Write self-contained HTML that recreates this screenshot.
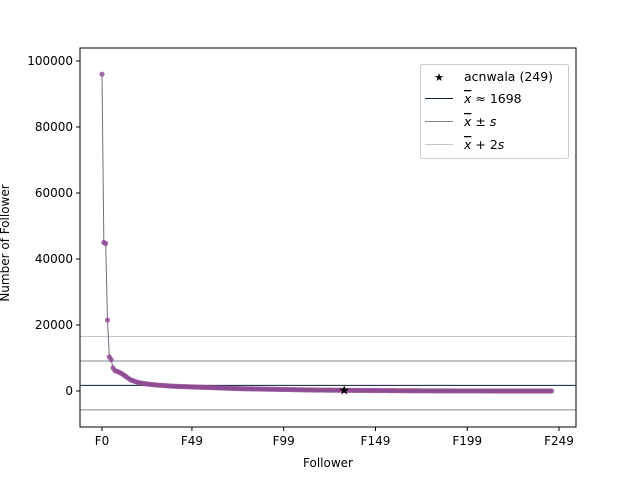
<!DOCTYPE html>
<html><head><meta charset="utf-8"><style>
body{margin:0;background:#fff}
svg{display:block;font-family:"DejaVu Sans","Liberation Sans",sans-serif}
</style></head><body>
<svg id="c" width="640" height="480"></svg>
<script>
const categories = Array.from({length:250},(_, i)=>'F'+i);
const followers = [96000,45000,44700,21500,10300,9500,7000,6200,6000,5800,5500,5200,4800,4400,4000,3600,3300,3100,2900,2700,
2550,2450,2350,2250,2150,2100,2050,1980,1920,1860,1800,1760,1720,1680,1640,1600,1560,1520,1490,1460,1430,1400,1380,1360,1340,1320,1300,1280,1260,1240,
1220,1200,1180,1160,1140,1120,1100,1080,1060,1040,1020,1000,980,960,940,920,900,880,860,840,820,800,780,760,740,720,700,690,680,670,
660,650,640,630,620,610,600,590,580,570,560,550,540,530,520,510,500,490,480,470,460,450,440,430,420,410,400,390,380,370,
360,350,340,330,320,310,300,295,290,285,280,275,270,265,260,255,250,249,245,240,235,230,225,220,215,210,205,200,195,190,
186,182,178,174,170,166,162,158,154,150,146,142,138,134,130,126,122,118,114,110,106,102,98,95,92,89,86,83,80,77,
74,71,68,65,62,60,58,56,54,52,50,48,46,44,42,40,38,36,34,32,30,29,28,27,26,25,24,23,22,21,
20,19,18,17,16,15,14,13,12,11,10,9,8,8,7,7,6,6,5,5,4,4,3,3,2,2,2,1,1,1,
1,1,1,1,1,1,1,1,0,0,0,0,0,0,0,0];
const yTicks = [0,20000,40000,60000,80000,100000];
const xTickIdx = [0,49,99,149,199,249];
const highlightIdx = 132;
const highlightLabel = 'acnwala (249)';
const meanVal = 1698;
const sdVal = 7400;

const NS='http://www.w3.org/2000/svg', svg=document.getElementById('c');
const L=80,R=576,T=48,B=427;
const xs=i=>102+i*(457/249);
const ys=v=>391-v*0.0033;
function el(t,a,p){const e=document.createElementNS(NS,t);for(const k in a)e.setAttribute(k,a[k]);(p||svg).appendChild(e);return e;}
function line(y,c,name){const e=el('line',{x1:L,x2:R,y1:ys(y),y2:ys(y),stroke:c,'stroke-width':1});

}
line(meanVal+2*sdVal,'#c4c8cc','mean-plus-2s-line');
line(meanVal+sdVal,'#7d8a96','mean-plus-s-line');
line(meanVal-sdVal,'#7d8a96','mean-minus-s-line');
line(meanVal,'#0b2135','mean-line');
const pts=followers.map((v,i)=>xs(i)+','+ys(v)).join(' ');
const pl=el('polyline',{points:pts,fill:'none',stroke:'#7a6a7e','stroke-width':1});


followers.forEach((v,i)=>{const c=el('circle',{cx:xs(i),cy:ys(v),r:2.6,fill:'#8e4a94','fill-opacity':0.8});

});
const st=el('text',{x:xs(highlightIdx),y:ys(followers[highlightIdx])+4,'text-anchor':'middle','font-size':13,fill:'#000'});
st.textContent='★';


const fr=el('rect',{x:L,y:T,width:R-L,height:B-T,fill:'none',stroke:'#000','stroke-width':1});


yTicks.forEach(v=>{el('line',{x1:L-4,x2:L,y1:ys(v),y2:ys(v),stroke:'#000'});
const t=el('text',{x:L-7,y:ys(v)+4,'text-anchor':'end','font-size':12});t.textContent=v;

});
xTickIdx.forEach(i=>{el('line',{x1:xs(i),x2:xs(i),y1:B,y2:B+4,stroke:'#000'});
const t=el('text',{x:xs(i),y:B+18,'text-anchor':'middle','font-size':12});t.textContent=categories[i];

});
</script>
<svg width="640" height="480" style="position:absolute;left:0;top:0">
<text x="328" y="467" text-anchor="middle" font-size="12">Follower</text>
<text x="0" y="0" transform="translate(9,243) rotate(-90)" text-anchor="middle" font-size="12">Number of Follower</text>
<g>
<rect x="420.5" y="64.5" width="148" height="94" rx="2" fill="#fff" fill-opacity="0.8" stroke="#ccc"/>
<text x="439" y="81" text-anchor="middle" font-size="11">★</text>
<text x="464" y="81" font-size="12.5">acnwala (249)</text>
<line x1="425" x2="453" y1="98.5" y2="98.5" stroke="#0b2135"/>
<text x="464" y="103" font-size="12.5"><tspan font-style="italic" text-decoration="overline">x</tspan> ≈ 1698</text>
<line x1="425" x2="453" y1="121.5" y2="121.5" stroke="#7d8a96"/>
<text x="464" y="126" font-size="12.5"><tspan font-style="italic" text-decoration="overline">x</tspan> ± <tspan font-style="italic">s</tspan></text>
<line x1="425" x2="453" y1="144.5" y2="144.5" stroke="#c4c8cc"/>
<text x="464" y="149" font-size="12.5"><tspan font-style="italic" text-decoration="overline">x</tspan> + 2<tspan font-style="italic">s</tspan></text>
</g>
</svg>
</body></html>
